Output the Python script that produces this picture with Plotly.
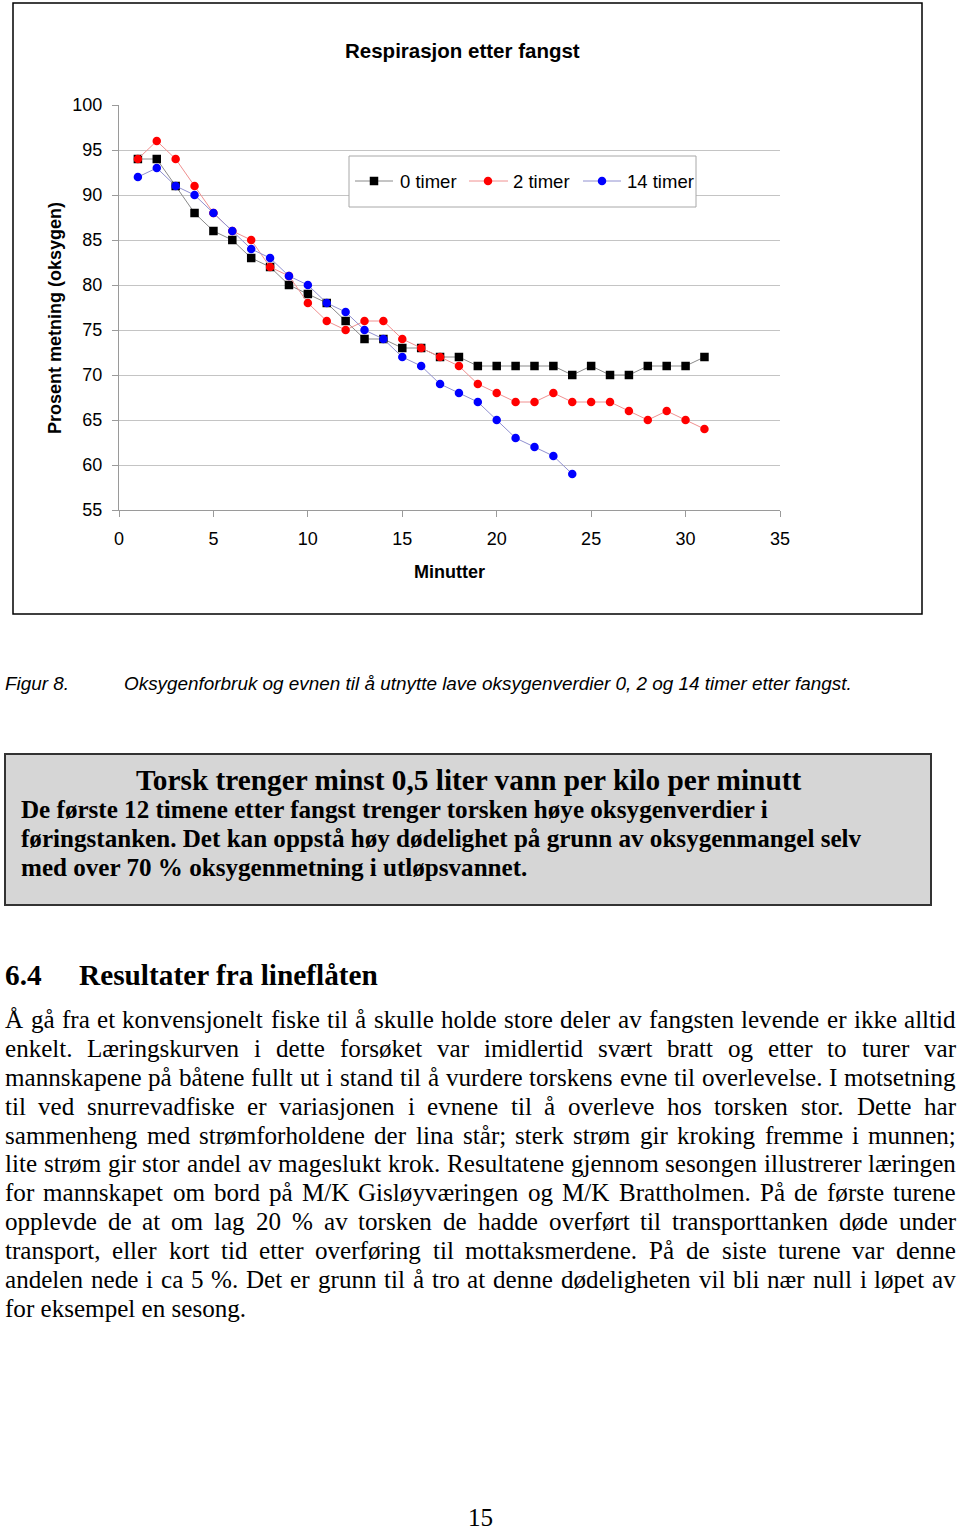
import plotly.graph_objects as go

W, H = 960, 1533

# ---------------- chart data ----------------
minutes_0 = list(range(1, 32))
timer_0 = [94, 94, 91, 88, 86, 85, 83, 82, 80, 79, 78, 76, 74, 74, 73, 73,
           72, 72, 71, 71, 71, 71, 71, 70, 71, 70, 70, 71, 71, 71, 72]
minutes_2 = list(range(1, 32))
timer_2 = [94, 96, 94, 91, 88, 86, 85, 82, 81, 78, 76, 75, 76, 76, 74, 73,
           72, 71, 69, 68, 67, 67, 68, 67, 67, 67, 66, 65, 66, 65, 64]
minutes_14 = list(range(1, 25))
timer_14 = [92, 93, 91, 90, 88, 86, 84, 83, 81, 80, 78, 77, 75, 74, 72, 71,
            69, 68, 67, 65, 63, 62, 61, 59]

series_names = ["0 timer", "2 timer", "14 timer"]
y_ticks = [55, 60, 65, 70, 75, 80, 85, 90, 95, 100]
x_ticks = [0, 5, 10, 15, 20, 25, 30, 35]

chart_title = "Respirasjon etter fangst"
x_title = "Minutter"
y_title = "Prosent metning (oksygen)"

caption_label = "Figur 8."
caption_text = "Oksygenforbruk og evnen til å utnytte lave oksygenverdier 0, 2 og 14 timer etter fangst."

box_title = "Torsk trenger minst 0,5 liter vann per kilo per minutt"
box_lines = [
    "De første 12 timene etter fangst trenger torsken høye oksygenverdier i",
    "føringstanken. Det kan oppstå høy dødelighet på grunn av oksygenmangel selv",
    "med over 70 % oksygenmetning i utløpsvannet.",
]
heading_num = "6.4"
heading_text = "Resultater fra lineflåten"
paragraph_lines = [
    "Å gå fra et konvensjonelt fiske til å skulle holde store deler av fangsten levende er ikke alltid",
    "enkelt. Læringskurven i dette forsøket var imidlertid svært bratt og etter to turer var",
    "mannskapene på båtene fullt ut i stand til å vurdere torskens evne til overlevelse. I motsetning",
    "til ved snurrevadfiske er variasjonen i evnene til å overleve hos torsken stor. Dette har",
    "sammenheng med strømforholdene der lina står; sterk strøm gir kroking fremme i munnen;",
    "lite strøm gir stor andel av mageslukt krok. Resultatene gjennom sesongen illustrerer læringen",
    "for mannskapet om bord på M/K Gisløyværingen og M/K Brattholmen. På de første turene",
    "opplevde de at om lag 20 % av torsken de hadde overført til transporttanken døde under",
    "transport, eller kort tid etter overføring til mottaksmerdene. På de siste turene var denne",
    "andelen nede i ca 5 %. Det er grunn til å tro at denne dødeligheten vil bli nær null i løpet av",
    "for eksempel en sesong.",
]
page_number = "15"

# ---------------- helpers ----------------
SANS = "Liberation Sans, Arial, sans-serif"
SERIF = "Liberation Serif, Times New Roman, serif"

TIMES = {" ": 250, "!": 333, "%": 833, ",": 250, "-": 333, ".": 250, "/": 278,
         ";": 278, ":": 278,
         "A": 722, "B": 667, "C": 667, "D": 722, "E": 611, "F": 556, "G": 722,
         "H": 722, "I": 333, "J": 389, "K": 722, "L": 611, "M": 889, "N": 722,
         "O": 722, "P": 556, "Q": 722, "R": 667, "S": 556, "T": 611, "U": 722,
         "V": 722, "W": 944, "X": 722, "Y": 722, "Z": 611,
         "a": 444, "b": 500, "c": 444, "d": 500, "e": 444, "f": 333, "g": 500,
         "h": 500, "i": 278, "j": 278, "k": 500, "l": 278, "m": 778, "n": 500,
         "o": 500, "p": 500, "q": 500, "r": 333, "s": 389, "t": 278, "u": 500,
         "v": 500, "w": 722, "x": 500, "y": 500, "z": 444,
         "Å": 722, "å": 444, "æ": 667, "ø": 500, "Æ": 889, "Ø": 722}


def tw(s, size):
    return sum(TIMES.get(c, 500) for c in s) * size / 1000.0


def px(x):
    return x / W


def py(y):
    return 1 - y / H


annotations = []


def text(x, baseline, s, size, family, anchor="left", bold=False, italic=False,
         color="black"):
    if bold:
        s = "<b>" + s + "</b>"
    if italic:
        s = "<i>" + s + "</i>"
    cy = baseline - 0.34 * size
    annotations.append(dict(x=px(x), y=py(cy), xref="paper", yref="paper",
                            text=s, showarrow=False, xanchor=anchor,
                            yanchor="middle", borderpad=0, borderwidth=0,
                            font=dict(size=size, family=family, color=color)))


fig = go.Figure()
fig.add_trace(go.Scatter(x=minutes_0, y=timer_0, mode="lines+markers",
                         name=series_names[0],
                         line=dict(color="#8a8a8a", width=1),
                         marker=dict(symbol="square", size=8.5, color="#000000")))
fig.add_trace(go.Scatter(x=minutes_2, y=timer_2, mode="lines+markers",
                         name=series_names[1],
                         line=dict(color="#f09090", width=1),
                         marker=dict(symbol="circle", size=8.5, color="#ff0000")))
fig.add_trace(go.Scatter(x=minutes_14, y=timer_14, mode="lines+markers",
                         name=series_names[2],
                         line=dict(color="#9090d0", width=1),
                         marker=dict(symbol="circle", size=8.5, color="#0000ff")))

shapes = []
# chart outer border
shapes.append(dict(type="rect", xref="paper", yref="paper", x0=px(13), x1=px(922),
                   y0=py(614), y1=py(3), line=dict(color="black", width=1.5),
                   fillcolor="rgba(0,0,0,0)"))
# legend
shapes.append(dict(type="rect", xref="paper", yref="paper", x0=px(349), x1=px(696),
                   y0=py(207), y1=py(156), line=dict(color="#a8a8a8", width=1),
                   fillcolor="white"))
leg_y = 181
leg_items = [(355, 393, 374, "#8a8a8a", "#000000", "square", 400),
             (469, 508, 488, "#f09090", "#ff0000", "circle", 513),
             (583, 621, 602, "#9090d0", "#0000ff", "circle", 627)]
for (lx0, lx1, mx, lc, mc, sym, tx), name in zip(leg_items, series_names):
    shapes.append(dict(type="line", xref="paper", yref="paper", x0=px(lx0), x1=px(lx1),
                       y0=py(leg_y), y1=py(leg_y), line=dict(color=lc, width=1)))
    shapes.append(dict(type="rect" if sym == "square" else "circle",
                       xref="paper", yref="paper",
                       x0=px(mx - 4.25), x1=px(mx + 4.25),
                       y0=py(leg_y + 4.25), y1=py(leg_y - 4.25),
                       line=dict(width=0), fillcolor=mc))
    text(tx, leg_y + 6.5, name, 18.5, SANS)

# chart texts
text(462, 57, chart_title, 20.5, SANS, anchor="center", bold=True)
annotations.append(dict(x=px(55), y=py(318), xref="paper", yref="paper",
                        text="<b>" + y_title + "</b>", textangle=-90, showarrow=False,
                        xanchor="center", yanchor="middle",
                        font=dict(size=18, family=SANS, color="black")))
text(449, 578, x_title, 18, SANS, anchor="center", bold=True)

# caption
text(5, 690, caption_label, 18.9, SANS, italic=True)
text(124, 690, caption_text, 18.9, SANS, italic=True)

# grey box
shapes.append(dict(type="rect", xref="paper", yref="paper", x0=px(5), x1=px(931),
                   y0=py(905), y1=py(754), line=dict(color="#333333", width=2),
                   fillcolor="#d6d6d6", layer="below"))
text(468, 790, box_title, 29.3, SERIF, anchor="center", bold=True)
for i, ln in enumerate(box_lines):
    text(21, 818 + 29 * i, ln, 25.1, SERIF, bold=True)

# heading
text(5, 985, heading_num, 29.3, SERIF, bold=True)
text(79, 985, heading_text, 29.3, SERIF, bold=True)

# justified paragraph
FS = 25.1
LEFT, RIGHT = 5, 956
for i, ln in enumerate(paragraph_lines):
    base = 1028 + 28.9 * i
    words = ln.split(" ")
    if i == len(paragraph_lines) - 1 or len(words) == 1:
        text(LEFT, base, ln, FS, SERIF)
        continue
    widths = [tw(w, FS) for w in words]
    gap = (RIGHT - LEFT - sum(widths)) / (len(words) - 1)
    x = LEFT
    for w, wd in zip(words, widths):
        text(x, base, w, FS, SERIF)
        x += wd + gap

text(480, 1526, page_number, 25.1, SERIF, anchor="center")

fig.update_layout(
    width=W, height=H, autosize=False,
    margin=dict(l=0, r=0, t=0, b=0, pad=0, autoexpand=False),
    paper_bgcolor="white", plot_bgcolor="white",
    showlegend=False,
    font=dict(family=SANS, size=18, color="black"),
    xaxis=dict(domain=[px(119), px(780)], range=[0, 35], tickvals=x_ticks,
               automargin=False,
               showgrid=False, zeroline=False, showline=True, linecolor="#9a9a9a",
               linewidth=1, ticks="outside", ticklen=6, tickcolor="#9a9a9a",
               tickfont=dict(size=18, family=SANS, color="black"),
               ticklabelstandoff=6),
    yaxis=dict(domain=[py(510), py(105)], range=[55, 100], tickvals=y_ticks,
               automargin=False,
               showgrid=True, gridcolor="#c4c4c4", gridwidth=1, zeroline=False,
               showline=True, linecolor="#9a9a9a", linewidth=1, ticks="outside",
               ticklen=6, tickcolor="#9a9a9a",
               tickfont=dict(size=18, family=SANS, color="black"),
               ticklabelstandoff=6),
    shapes=shapes,
    annotations=annotations,
)

fig.write_html("out.html")
